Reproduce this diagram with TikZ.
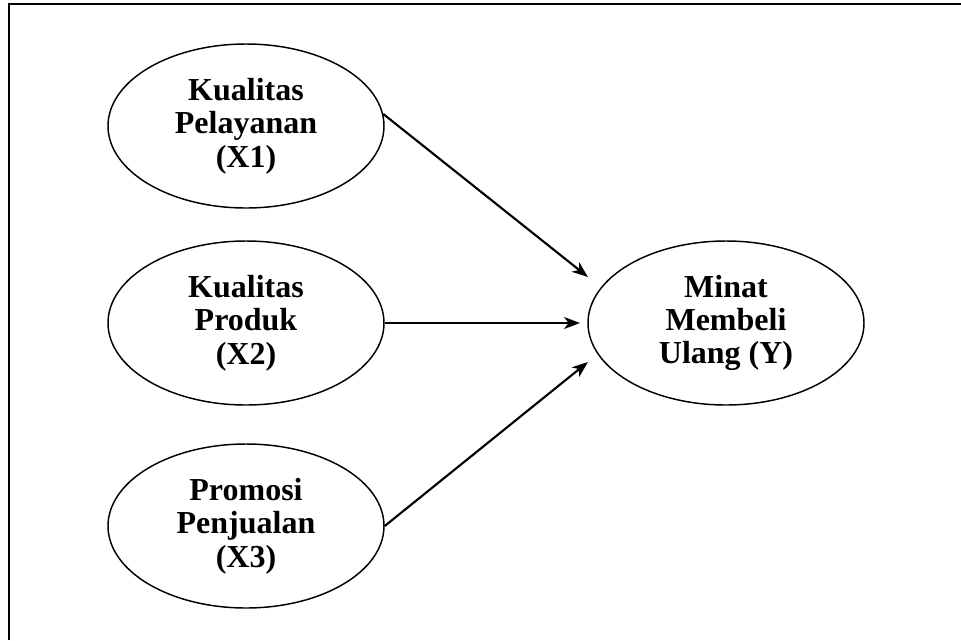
\documentclass[tikz,border=0pt]{standalone}
\usepackage{fontspec}
\setmainfont{Liberation Serif}
\usetikzlibrary{shapes.geometric}
\usetikzlibrary{arrows.meta}

\tikzset{
  varnode/.style={ellipse, draw, line width=1.1pt, minimum width=207pt,
    minimum height=123pt, inner sep=0pt, align=center,
    font=\fontsize{24}{25}\selectfont\bfseries},
  panah/.style={line width=1.6pt, -{Stealth[length=12pt,width=9pt,inset=3.5pt]}}
}

\begin{document}
\begin{tikzpicture}[x=0.75pt,y=-0.75pt]
        \useasboundingbox (0,0) rectangle (961,640);
        % frame (only top and left edges show)
        \draw[line width=1.9pt] (9,640) -- (9,4) -- (961,4);
        % variables
        \node[varnode] (x1) at (246,126) {Kualitas\\Pelayanan\\(X1)};
        \node[varnode] (x2) at (246,323) {Kualitas\\Produk\\(X2)};
        \node[varnode] (x3) at (246,526) {Promosi\\Penjualan\\(X3)};
        \node[varnode] (y) at (726,323) {Minat\\Membeli\\Ulang (Y)};
        % arrow ends
        \coordinate (y1) at (588,277);
        \coordinate (y2) at (580,323);
        \coordinate (y3) at (588,362);
        \draw[panah] (x1.5) -- (y1);
        \draw[panah] (x2.east) -- (y2);
        \draw[panah] (x3.east) -- (y3);
\end{tikzpicture}
\end{document}
